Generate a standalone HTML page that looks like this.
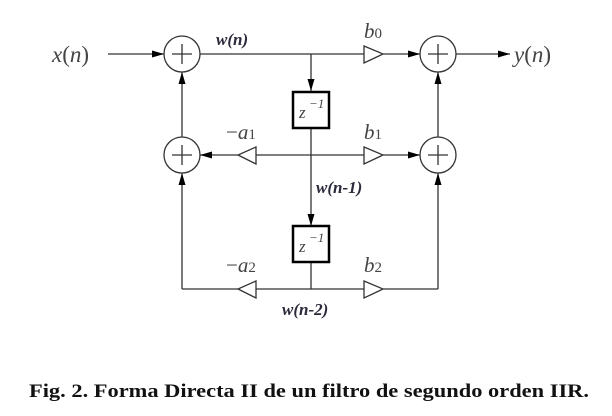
<!DOCTYPE html>
<html><head><meta charset="utf-8"><style>
html,body{margin:0;padding:0;background:#fff;}
svg{display:block;}
.m{font-family:"Liberation Serif","DejaVu Serif",serif;font-style:italic;fill:#444;}
.w{font-family:"Liberation Serif","DejaVu Serif",serif;font-style:italic;font-weight:bold;fill:#2a2a3a;font-size:17px;}
.c{font-family:"Liberation Serif","DejaVu Serif",serif;font-weight:bold;fill:#111;font-size:18.5px;}
</style></head><body>
<svg width="612" height="416" viewBox="0 0 612 416" xmlns="http://www.w3.org/2000/svg" font-family="Liberation Serif, serif">
<defs>
<marker id="a" viewBox="0 0 12 8" refX="12" refY="4" markerWidth="12" markerHeight="8" markerUnits="userSpaceOnUse" orient="auto">
<path d="M0,0.5 L12,4 L0,7.5 z" fill="#000"/></marker>
</defs>
<g stroke="#333" stroke-width="1.3" fill="none">
<line x1="108" y1="54" x2="164" y2="54" marker-end="url(#a)"/>
<line x1="200" y1="54" x2="364" y2="54"/>
<line x1="383" y1="54" x2="420" y2="54" marker-end="url(#a)"/>
<line x1="456" y1="54" x2="510" y2="54" marker-end="url(#a)"/>
<line x1="311" y1="54" x2="311" y2="91" marker-end="url(#a)"/>
<line x1="311" y1="128" x2="311" y2="226" marker-end="url(#a)"/>
<line x1="311" y1="262" x2="311" y2="289"/>
<line x1="256" y1="155" x2="364" y2="155"/>
<line x1="238" y1="155" x2="200" y2="155" marker-end="url(#a)"/>
<line x1="383" y1="155" x2="420" y2="155" marker-end="url(#a)"/>
<line x1="182" y1="289" x2="238" y2="289"/>
<line x1="256" y1="289" x2="364" y2="289"/>
<line x1="383" y1="289" x2="438" y2="289"/>
<line x1="182" y1="289" x2="182" y2="173" marker-end="url(#a)"/>
<line x1="438" y1="289" x2="438" y2="173" marker-end="url(#a)"/>
<line x1="182" y1="137" x2="182" y2="72" marker-end="url(#a)"/>
<line x1="438" y1="137" x2="438" y2="72" marker-end="url(#a)"/>
<path d="M364,46 L383,54 L364,63 z" fill="#fff"/>
<path d="M364,147 L383,155 L364,164 z" fill="#fff"/>
<path d="M364,281 L383,289 L364,298 z" fill="#fff"/>
<path d="M256,147 L238,155 L256,164 z" fill="#fff"/>
<path d="M256,281 L238,289 L256,298 z" fill="#fff"/>
<circle cx="182" cy="54" r="18" fill="#fff"/>
<circle cx="438" cy="54" r="18" fill="#fff"/>
<circle cx="182" cy="155" r="18" fill="#fff"/>
<circle cx="438" cy="155" r="18" fill="#fff"/>
<path d="M172,54h20M182,44v20M428,54h20M438,44v20M172,155h20M182,145v20M428,155h20M438,145v20"/>
</g>
<rect x="293" y="92" width="36" height="36" fill="#fff" stroke="#000" stroke-width="2.5"/>
<rect x="293" y="226" width="36" height="36" fill="#fff" stroke="#000" stroke-width="2.5"/>
<text class="m" x="299" y="118" font-size="17">z</text><text class="m" x="309" y="108" font-size="13" font-style="normal">−1</text>
<text class="m" x="299" y="252" font-size="17">z</text><text class="m" x="309" y="242" font-size="13" font-style="normal">−1</text>
<text class="m" x="52" y="62" font-size="23">x<tspan font-style="normal">(</tspan>n<tspan font-style="normal">)</tspan></text>
<text class="m" x="514" y="62" font-size="23">y<tspan font-style="normal">(</tspan>n<tspan font-style="normal">)</tspan></text>
<text class="m" x="364" y="38" font-size="21">b<tspan font-style="normal" font-size="15">0</tspan></text>
<text class="m" x="364" y="139" font-size="21">b<tspan font-style="normal" font-size="15">1</tspan></text>
<text class="m" x="364" y="272" font-size="21">b<tspan font-style="normal" font-size="15">2</tspan></text>
<text class="m" x="226" y="139" font-size="21"><tspan font-style="normal">−</tspan>a<tspan font-style="normal" font-size="15">1</tspan></text>
<text class="m" x="226" y="272" font-size="21"><tspan font-style="normal">−</tspan>a<tspan font-style="normal" font-size="15">2</tspan></text>
<text class="w" x="216" y="45">w(n)</text>
<text class="w" x="316" y="193">w(n-1)</text>
<text class="w" x="282" y="315">w(n-2)</text>
<text class="c" x="309" y="397" text-anchor="middle" textLength="560" lengthAdjust="spacingAndGlyphs">Fig. 2. Forma Directa II de un filtro de segundo orden IIR.</text>
</svg>
</body></html>
